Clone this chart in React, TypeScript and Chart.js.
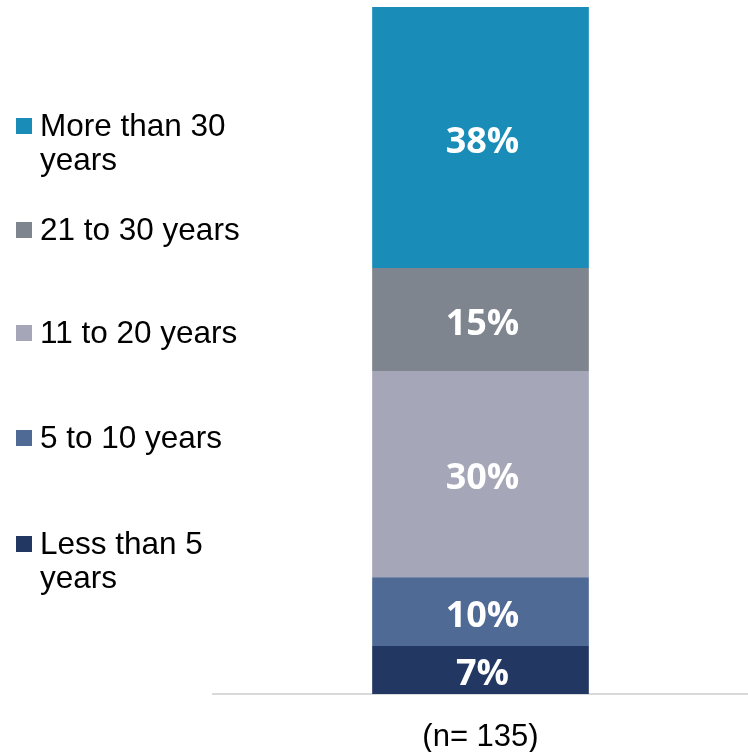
import React, { useEffect, useRef } from "react";
import { Chart, registerables } from "chart.js";

Chart.register(...registerables);

const categories = ["(n= 135)"];
const seriesNames = [
  "Less than 5 years",
  "5 to 10 years",
  "11 to 20 years",
  "21 to 30 years",
  "More than 30 years",
];
const seriesValues = [[7], [10], [30], [15], [38]];
const seriesColors = ["#223863", "#506A96", "#A5A6B8", "#7F858E", "#1A8CB8"];
// legend display lines (top to bottom)
const legendLines = [
  ["More than 30", "years"],
  ["21 to 30 years"],
  ["11 to 20 years"],
  ["5 to 10 years"],
  ["Less than 5", "years"],
];
const legendColors = ["#1A8CB8", "#7F858E", "#A5A6B8", "#506A96", "#223863"];
const legendCenters = [143, 230, 333, 438, 561];

const valueLabelPlugin = {
  id: "valueLabels",
  afterDatasetsDraw(chart: any) {
    const ctx = chart.ctx;
    ctx.save();
    ctx.fillStyle = "#ffffff";
    ctx.font = "bold 36px 'Open Sans'";
    ctx.textAlign = "center";
    ctx.textBaseline = "middle";
    chart.data.datasets.forEach((ds: any, i: number) => {
      const meta = chart.getDatasetMeta(i);
      meta.data.forEach((bar: any, j: number) => {
        const { x, y, base } = bar.getProps(["x", "y", "base"], true);
        ctx.fillText(ds.data[j] + "%", x + 2, (y + base) / 2 + 5);
      });
    });
    ctx.restore();
  },
};

const legendPlugin = {
  id: "sideLegend",
  afterDraw(chart: any) {
    const ctx = chart.ctx;
    ctx.save();
    ctx.font = "31.5px 'Liberation Sans', Arial, sans-serif";
    ctx.textBaseline = "middle";
    ctx.textAlign = "left";
    const lh = 34;
    legendLines.forEach((lines, i) => {
      const c = legendCenters[i];
      const top = c - ((lines.length - 1) * lh) / 2;
      ctx.fillStyle = legendColors[i];
      ctx.fillRect(16, top - 8, 16, 16);
      ctx.fillStyle = "#000000";
      lines.forEach((t, k) => ctx.fillText(t, 40, top + k * lh + 1));
    });
    ctx.restore();
  },
};

export default function App() {
  const ref = useRef<HTMLCanvasElement>(null);
  useEffect(() => {
    document.body.style.margin = "0";
    const chart = new Chart(ref.current!, {
      type: "bar",
      data: {
        labels: categories,
        datasets: seriesNames.map((n, i) => ({
          label: n,
          data: seriesValues[i],
          backgroundColor: seriesColors[i],
          borderWidth: 0,
          barPercentage: 0.81,
          categoryPercentage: 0.5,
        })),
      },
      options: {
        responsive: false,
        animation: false,
        layout: { padding: { left: 213, top: 7, right: 0, bottom: 0 } },
        plugins: { legend: { display: false }, tooltip: { enabled: false } },
        scales: {
          x: {
            stacked: true,
            grid: { display: false, drawTicks: false },
            border: { display: true, color: "#D9D9D9", width: 2 },
            ticks: {
              color: "#000000",
              padding: 25,
              font: { family: "'Liberation Sans', Arial, sans-serif", size: 31 },
            },
            afterFit: (scale: any) => {
              scale.height = 58;
            },
          },
          y: {
            stacked: true,
            display: false,
            min: 0,
            max: 100,
          },
        },
      },
      plugins: [valueLabelPlugin, legendPlugin],
    });
    return () => chart.destroy();
  }, []);
  return (
    <div style={{ position: "absolute", left: 0, top: 0, width: 748, height: 752 }}>
      <canvas ref={ref} width={748} height={752} />
    </div>
  );
}
